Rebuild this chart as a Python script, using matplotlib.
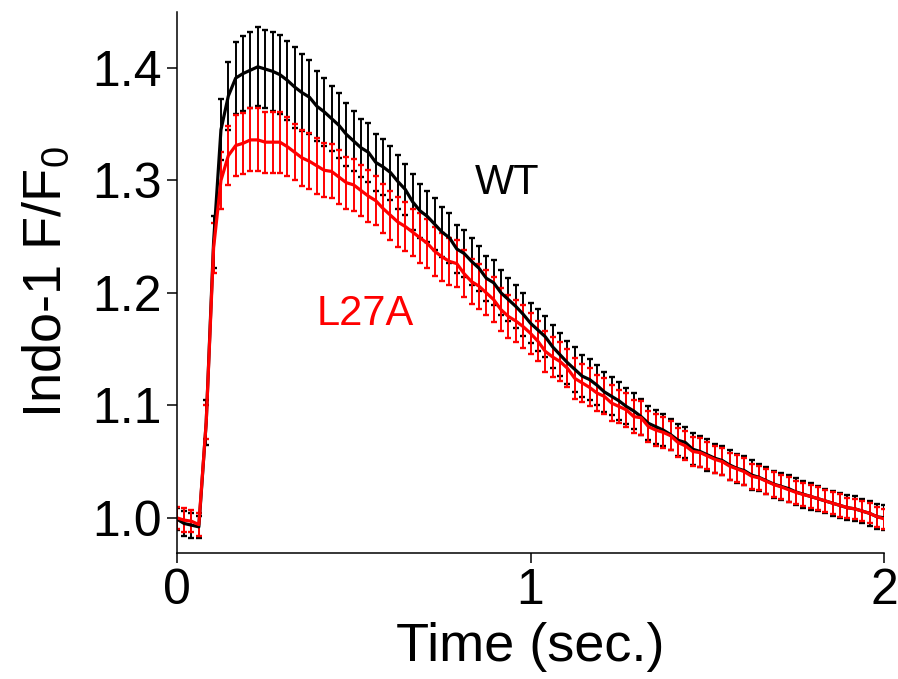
import numpy as np
import matplotlib
matplotlib.use("Agg")
import matplotlib.pyplot as plt

plt.rcParams['font.family'] = ['Liberation Sans', 'DejaVu Sans']
plt.rcParams['mathtext.fontset'] = 'custom'
plt.rcParams['mathtext.rm'] = 'Liberation Sans'

# sample times (error bars every ~0.021 s, 0 to 2 s)
time = np.linspace(0, 2, 97)

wt_mean = [
    0.999, 0.995, 0.9935, 0.992, 1.085, 1.245, 1.345, 1.375, 1.391, 1.395,
    1.398, 1.401, 1.399, 1.397, 1.394, 1.389, 1.383, 1.378, 1.374, 1.366,
    1.361, 1.355, 1.349, 1.341, 1.335, 1.329, 1.325, 1.316, 1.312, 1.307,
    1.299, 1.292, 1.281, 1.273, 1.268, 1.261, 1.254, 1.249, 1.239, 1.235,
    1.228, 1.222, 1.213, 1.209, 1.200, 1.194, 1.188, 1.181, 1.173, 1.167,
    1.161, 1.152, 1.145, 1.138, 1.132, 1.126, 1.123, 1.118, 1.112, 1.108,
    1.104, 1.099, 1.095, 1.090, 1.084, 1.081, 1.078, 1.074, 1.069, 1.067,
    1.061, 1.059, 1.056, 1.053, 1.051, 1.047, 1.044, 1.042, 1.038, 1.036,
    1.033, 1.030, 1.028, 1.026, 1.023, 1.021, 1.019, 1.017, 1.015, 1.013,
    1.011, 1.009, 1.008, 1.006, 1.004, 1.001, 1.000,
]
wt_err = [
    0.010, 0.011, 0.011, 0.010, 0.020, 0.023, 0.027, 0.030, 0.032, 0.033,
    0.034, 0.035, 0.035, 0.035, 0.035, 0.035, 0.036, 0.034, 0.033, 0.031,
    0.030, 0.029, 0.029, 0.028, 0.027, 0.026, 0.026, 0.025, 0.025, 0.024,
    0.024, 0.023, 0.025, 0.024, 0.023, 0.023, 0.022, 0.022, 0.021, 0.021,
    0.021, 0.020, 0.020, 0.020, 0.020, 0.019, 0.019, 0.019, 0.018, 0.019,
    0.018, 0.019, 0.019, 0.019, 0.020, 0.019, 0.018, 0.018, 0.018, 0.017,
    0.017, 0.016, 0.016, 0.016, 0.015, 0.015, 0.014, 0.014, 0.014, 0.014,
    0.014, 0.014, 0.014, 0.013, 0.013, 0.013, 0.013, 0.013, 0.013, 0.012,
    0.012, 0.012, 0.012, 0.012, 0.012, 0.012, 0.012, 0.011, 0.011, 0.011,
    0.011, 0.011, 0.011, 0.011, 0.011, 0.011, 0.011,
]

l27a_mean = [
    1.000, 0.998, 0.997, 0.994, 1.085, 1.240, 1.300, 1.322, 1.331, 1.333,
    1.336, 1.336, 1.334, 1.334, 1.334, 1.330, 1.325, 1.320, 1.317, 1.313,
    1.309, 1.308, 1.303, 1.298, 1.296, 1.291, 1.286, 1.282, 1.275, 1.269,
    1.263, 1.259, 1.254, 1.249, 1.244, 1.237, 1.232, 1.228, 1.226, 1.217,
    1.210, 1.206, 1.200, 1.194, 1.185, 1.179, 1.175, 1.170, 1.164, 1.157,
    1.148, 1.143, 1.139, 1.133, 1.124, 1.120, 1.116, 1.111, 1.108, 1.102,
    1.099, 1.096, 1.090, 1.089, 1.081, 1.078, 1.076, 1.073, 1.067, 1.064,
    1.059, 1.058, 1.055, 1.052, 1.050, 1.046, 1.0435, 1.041, 1.037, 1.0355,
    1.0325, 1.0296, 1.0275, 1.025, 1.0227, 1.0207, 1.019, 1.017, 1.015, 1.013,
    1.011, 1.009, 1.008, 1.006, 1.004, 1.001, 0.999,
]
l27a_err = [
    0.010, 0.011, 0.010, 0.010, 0.015, 0.022, 0.025, 0.026, 0.027, 0.027,
    0.028, 0.028, 0.027, 0.027, 0.027, 0.026, 0.025, 0.025, 0.025, 0.025,
    0.024, 0.024, 0.024, 0.023, 0.023, 0.023, 0.023, 0.022, 0.022, 0.022,
    0.022, 0.022, 0.021, 0.022, 0.022, 0.022, 0.021, 0.021, 0.021, 0.021,
    0.020, 0.020, 0.020, 0.020, 0.019, 0.019, 0.019, 0.019, 0.018, 0.018,
    0.018, 0.018, 0.017, 0.017, 0.018, 0.017, 0.017, 0.016, 0.016, 0.016,
    0.015, 0.015, 0.015, 0.015, 0.014, 0.014, 0.014, 0.013, 0.013, 0.013,
    0.013, 0.013, 0.012, 0.012, 0.012, 0.012, 0.012, 0.012, 0.011, 0.011,
    0.011, 0.011, 0.011, 0.011, 0.010, 0.010, 0.010, 0.010, 0.010, 0.010,
    0.010, 0.009, 0.009, 0.009, 0.009, 0.009, 0.009,
]

fig = plt.figure(figsize=(8.98, 6.79), dpi=100)
ax = fig.add_axes([0.1968, 0.186, 0.788, 0.7968])

ax.errorbar(time, wt_mean, yerr=wt_err, color='black', lw=2.3, elinewidth=1.4,
            capsize=2.3, capthick=1.7)
ax.errorbar(time, l27a_mean, yerr=l27a_err, color='#ff0000', lw=2.3, elinewidth=1.4,
            capsize=2.3, capthick=1.7)

ax.text(0.934, 1.298, 'WT', fontsize=30, color='black', ha='center', va='center')
ax.text(0.533, 1.1816, 'L27A', fontsize=30, color='#ff0000', ha='center', va='center')

ax.set_xlim(0, 2)
ax.set_ylim(0.969, 1.45)
ax.set_xticks([0, 1, 2])
ax.set_xticklabels(['0', '1', '2'])
ax.set_yticks([1.0, 1.1, 1.2, 1.3, 1.4])
ax.set_yticklabels(['1.0', '1.1', '1.2', '1.3', '1.4'])

for s in ['top', 'right']:
    ax.spines[s].set_visible(False)
for s in ['left', 'bottom']:
    ax.spines[s].set_linewidth(1.1)

ax.tick_params(direction='out', length=7, width=1.1, labelsize=36, pad=4)
ax.set_xlabel('Time (sec.)', fontsize=39, labelpad=6)
ax.set_ylabel('Indo-1 F/F$_\\mathregular{0}$', fontsize=39, labelpad=14)

fig.savefig('out.png', dpi=100)
